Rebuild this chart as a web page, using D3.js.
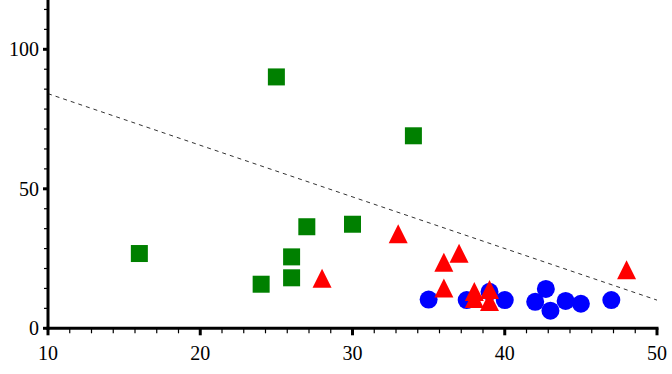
<!DOCTYPE html>
<html>
<head>
<meta charset="utf-8">
<script src="https://cdn.jsdelivr.net/npm/d3@7"></script>
<style>
  body { margin: 0; background: #fff; }
  svg { display: block; }
</style>
</head>
<body>
<div id="chart"></div>
<script>
// data
const squares = [
  [16, 26.8], [25, 90.1], [34, 69.0], [27, 36.4], [30, 37.3],
  [26, 25.6], [26, 18.1], [24, 15.8]
];
const triangles = [
  [28, 17.9], [33, 33.9], [36, 23.7], [37, 26.9], [36, 14.4],
  [38, 13.2], [38, 10.7], [39, 13.9], [39, 9.6], [48, 21.0]
];
const circles = [
  [35, 10.3], [37.5, 10.1], [39, 13.1], [40, 10.1], [42, 9.5],
  [42.7, 14.1], [43, 6.3], [44, 9.8], [45, 8.8], [47, 10.1]
];
const trendLine = [[10, 84.1], [50, 10.1]];

const xTicks = [10, 20, 30, 40, 50];
const yTicks = [0, 50, 100];

const width = 672, height = 374;
const labelFont = "Liberation Serif";

const svg = d3.select("#chart").append("svg")
  .attr("width", width)
  .attr("height", height);

const x = d3.scaleLinear().domain([10, 50]).range([48, 657]);
const y = d3.scaleLinear().domain([0, 100]).range([328.3, 49.3]);

// minor ticks split each major step in 7
const xMinor = d3.range(0, 28).map(i => 10 + i * 10 / 7).filter(v => !xTicks.some(t => Math.abs(t - v) < 1e-6));
const yMinor = d3.range(0, 17).map(i => i * 50 / 7).filter(v => !yTicks.some(t => Math.abs(t - v) < 1e-6) && y(v) > 0);

// dashed trend line
svg.append("line")
  .attr("x1", x(trendLine[0][0])).attr("y1", y(trendLine[0][1]))
  .attr("x2", x(trendLine[1][0])).attr("y2", y(trendLine[1][1]))
  .attr("stroke", "#333")
  .attr("stroke-width", 1)
  .attr("stroke-dasharray", "4,4");

// green squares
const sq = 17;
svg.selectAll(".sq").data(squares).enter().append("rect")
  .attr("x", d => x(d[0]) - sq / 2)
  .attr("y", d => y(d[1]) - sq / 2)
  .attr("width", sq).attr("height", sq)
  .attr("fill", "#008000");

// blue circles
svg.selectAll(".circ").data(circles).enter().append("circle")
  .attr("cx", d => x(d[0]))
  .attr("cy", d => y(d[1]))
  .attr("r", 9)
  .attr("fill", "#0000ff");

// red triangles
const tri = 19;
svg.selectAll(".tri").data(triangles).enter().append("path")
  .attr("d", d => {
    const cx = x(d[0]), cy = y(d[1]);
    return `M${cx},${cy - tri / 2}L${cx + tri / 2},${cy + tri / 2}L${cx - tri / 2},${cy + tri / 2}Z`;
  })
  .attr("fill", "#ff0000");

// axes
const axisG = svg.append("g");
axisG.append("line")
  .attr("x1", x(10)).attr("x2", x(10))
  .attr("y1", 0).attr("y2", y(0) + 1.5)
  .attr("stroke", "#000").attr("stroke-width", 3);
axisG.append("line")
  .attr("x1", x(10) - 1.5).attr("x2", x(50) + 1.5)
  .attr("y1", y(0)).attr("y2", y(0))
  .attr("stroke", "#000").attr("stroke-width", 3);

// x ticks
axisG.selectAll(".xmaj").data(xTicks).enter().append("line")
  .attr("x1", d => x(d)).attr("x2", d => x(d))
  .attr("y1", y(0)).attr("y2", y(0) + 7)
  .attr("stroke", "#000").attr("stroke-width", 3);
axisG.selectAll(".xmin").data(xMinor).enter().append("line")
  .attr("x1", d => x(d)).attr("x2", d => x(d))
  .attr("y1", y(0)).attr("y2", y(0) + 5)
  .attr("stroke", "#000").attr("stroke-width", 1.2);
axisG.selectAll(".xlab").data(xTicks).enter().append("text")
  .attr("font-family", labelFont)
  .attr("font-size", 20)
  .attr("fill", "#000")
  .attr("x", d => x(d)).attr("y", 360)
  .attr("text-anchor", "middle")
  .text(d => d);

// y ticks
axisG.selectAll(".ymaj").data(yTicks).enter().append("line")
  .attr("x1", x(10) - 5).attr("x2", x(10))
  .attr("y1", d => y(d)).attr("y2", d => y(d))
  .attr("stroke", "#000").attr("stroke-width", 3);
axisG.selectAll(".ymin").data(yMinor).enter().append("line")
  .attr("x1", x(10) - 4).attr("x2", x(10))
  .attr("y1", d => y(d)).attr("y2", d => y(d))
  .attr("stroke", "#000").attr("stroke-width", 1.2);
axisG.selectAll(".ylab").data(yTicks).enter().append("text")
  .attr("font-family", labelFont)
  .attr("font-size", 20)
  .attr("fill", "#000")
  .attr("x", 39).attr("y", d => y(d) + 7)
  .attr("text-anchor", "end")
  .text(d => d);
</script>
</body>
</html>
